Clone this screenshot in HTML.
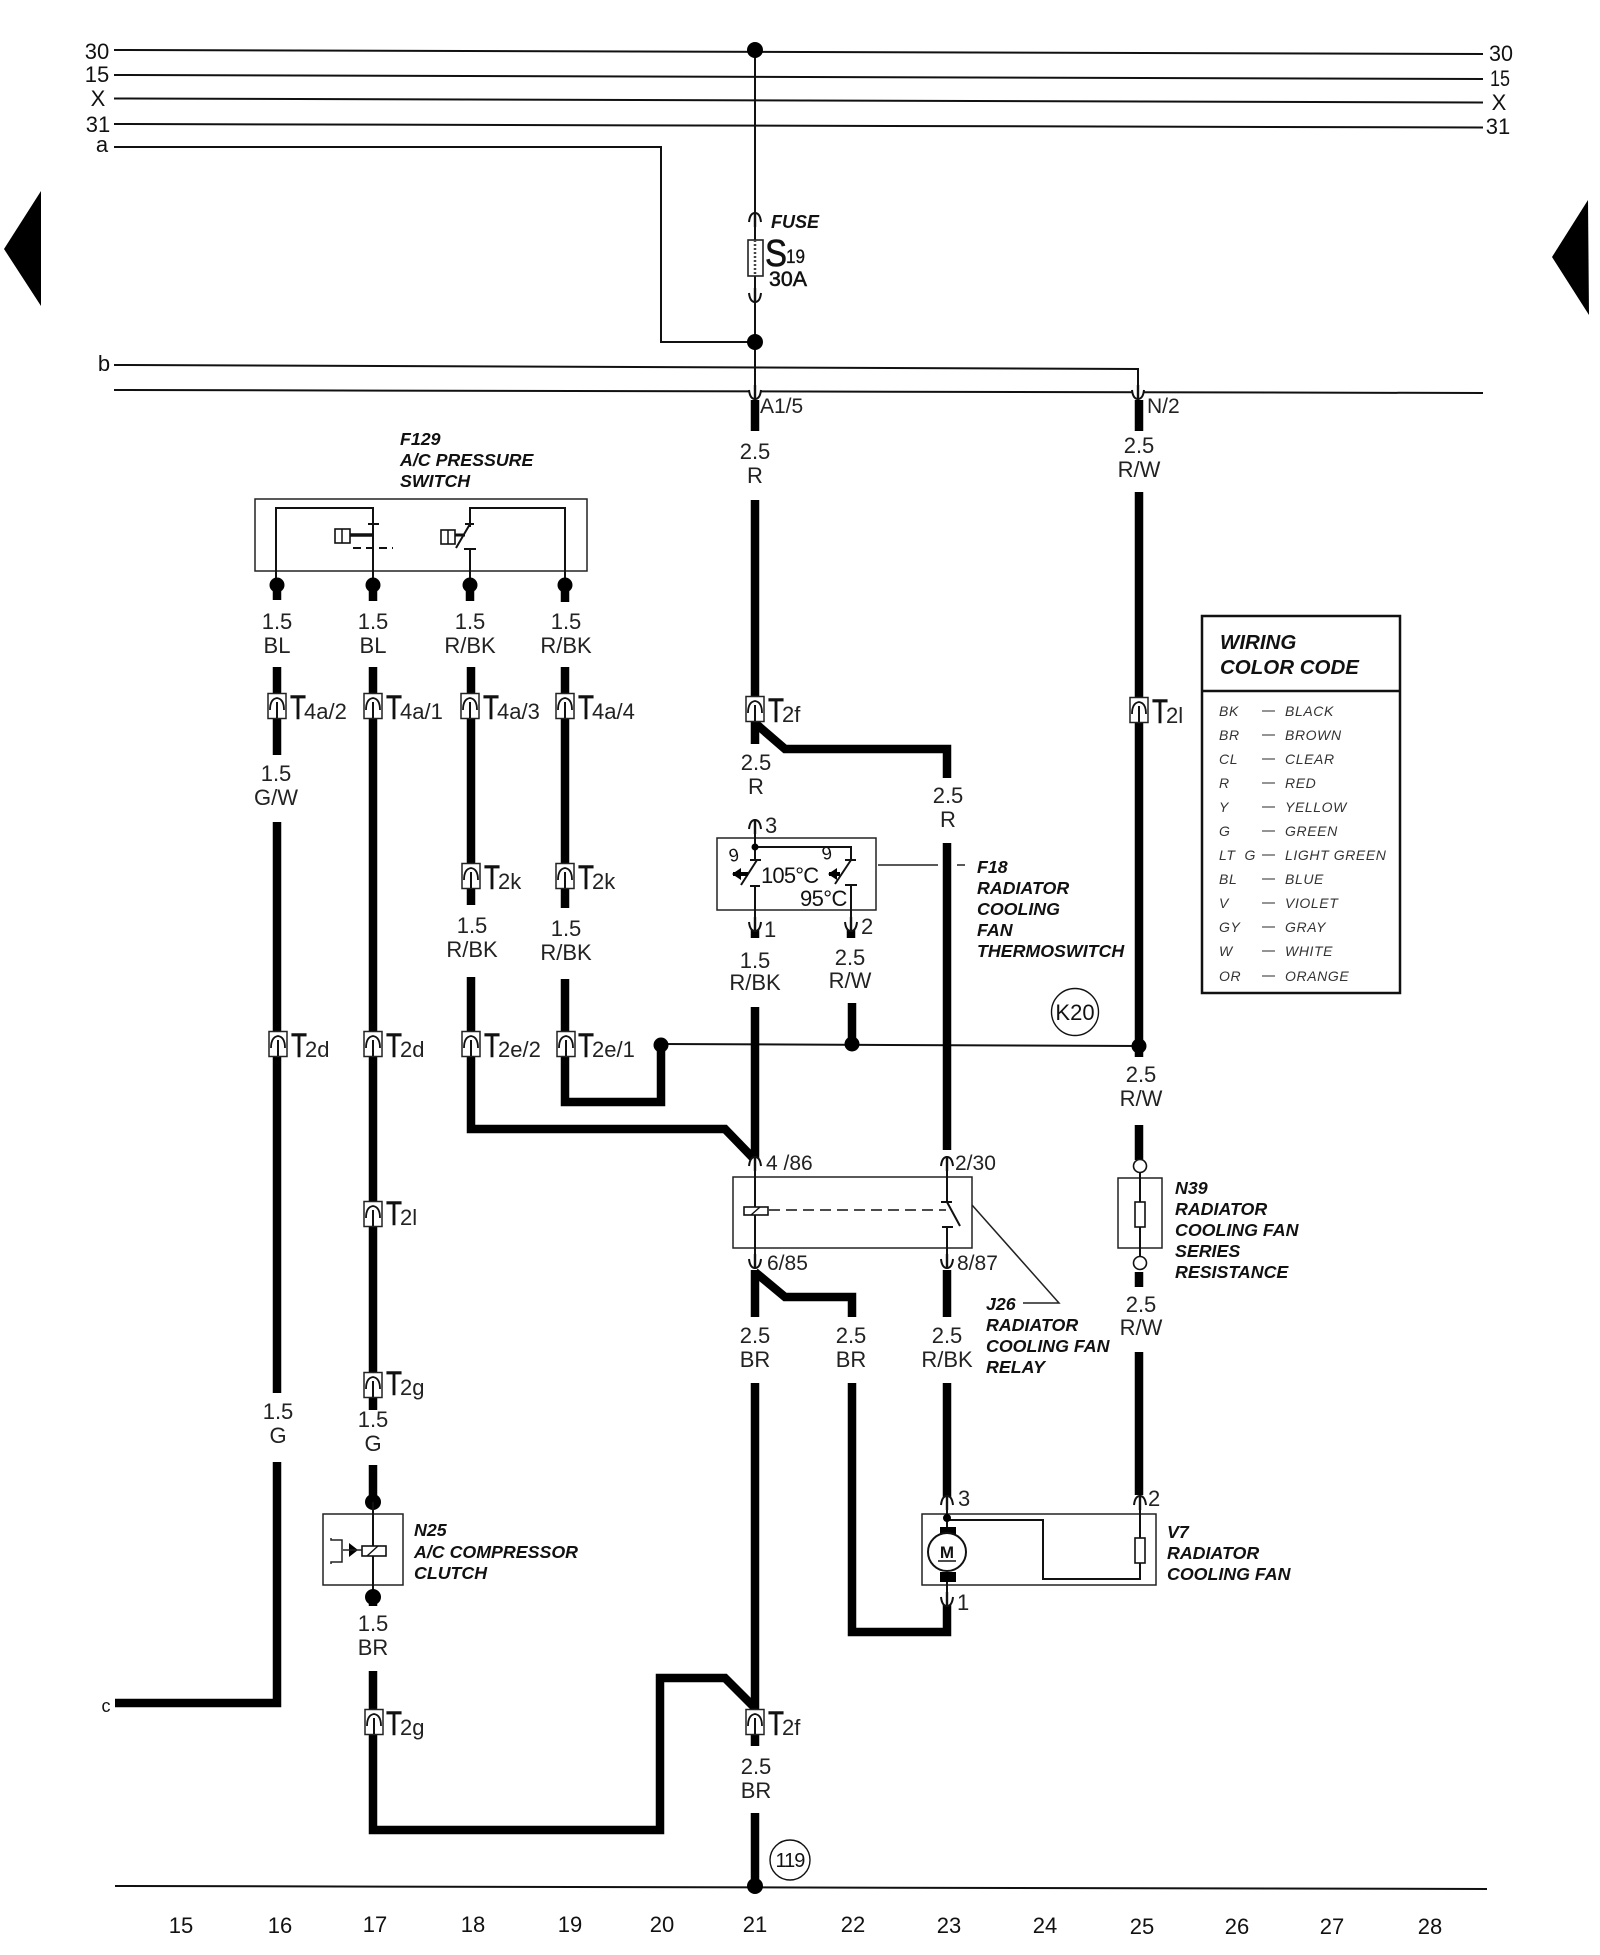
<!DOCTYPE html>
<html><head><meta charset="utf-8"><style>
html,body{margin:0;padding:0;background:#fff}
svg{display:block}
text{font-family:"Liberation Sans",sans-serif;fill:#111}
.l{font-size:22px;text-anchor:middle;fill:#222}
.n{font-size:22px;text-anchor:middle;font-weight:400}
.b{font-size:17.8px;font-weight:700;font-style:italic}
.p{font-size:21px;fill:#222}
.c{font-size:14px;font-style:italic;letter-spacing:.6px;fill:#333}
.tt{font-size:34px;fill:#111;stroke:#111;stroke-width:.5}
.ts{font-size:22px;fill:#222}
.w{fill:none;stroke:#000;stroke-width:8.5;stroke-linejoin:miter}
.t{fill:none;stroke:#111;stroke-width:2}
.h{fill:none;stroke:#222;stroke-width:1.5}
</style></head><body>
<svg xmlns="http://www.w3.org/2000/svg" width="1600" height="1955" viewBox="0 0 1600 1955">
<defs>
<g id="tc"><rect x="-9" y="-12.5" width="18" height="25" fill="#fff" stroke="#222" stroke-width="1.5"/><path d="M-7 4 Q-7 -7 0 -8 Q7 -7 7 4" fill="none" stroke="#111" stroke-width="1.8"/><path d="M0 -4V12" stroke="#111" stroke-width="2"/></g>
<g id="ua"><path d="M-6 4 Q-5 -5 0 -5 Q5 -5 6 4" fill="#fff" stroke="#111" stroke-width="2"/><path d="M0 -6V9" stroke="#111" stroke-width="2.4"/></g>
<g id="ud"><path d="M-6 -4 Q-5 5 0 5 Q5 5 6 -4" fill="#fff" stroke="#111" stroke-width="2"/><path d="M0 -9V6" stroke="#111" stroke-width="2.4"/></g>
</defs>
<rect width="1600" height="1955" fill="#fff"/>

<!-- triangles -->
<polygon points="41,191 4,249 41,306" fill="#000"/>
<polygon points="1552,257 1588,200 1589,315" fill="#000"/>

<!-- bus lines -->
<g class="t">
<path d="M114 50L1483 54"/>
<path d="M114 75L1483 79"/>
<path d="M114 98.5L1483 102.5"/>
<path d="M114 124L1483 127.5"/>
<path d="M114 147H661V342H755"/>
<path d="M114 365L1138 369V395"/>
<path d="M114 390L1483 393"/>
<path d="M115 1886L1487 1889"/>
<path d="M755 50V395"/>
<path d="M661 1044L1139 1046"/>
</g>
<circle cx="755" cy="50" r="8" fill="#000"/><circle cx="755" cy="342" r="8" fill="#000"/>

<text class="n" x="97" y="59">30</text><text class="n" x="97" y="82">15</text><text class="n" x="98" y="106">X</text><text class="n" x="98" y="132">31</text><text class="n" x="102" y="152">a</text><text class="n" x="104" y="371">b</text>
<text class="n" x="106" y="1712" style="font-size:18px">c</text>
<text class="n" x="1501" y="61" textLength="24" lengthAdjust="spacingAndGlyphs">30</text><text class="n" x="1500" y="86" textLength="20" lengthAdjust="spacingAndGlyphs">15</text><text class="n" x="1499" y="110">X</text><text class="n" x="1498" y="134">31</text>

<!-- fuse -->
<path class="t" d="M755 216V298"/>
<use href="#ua" x="755" y="218"/><use href="#ud" x="755" y="297"/>
<rect x="748" y="240" width="15" height="36" fill="#fff" stroke="#222" stroke-width="1.6"/><path d="M755 240V276" stroke="#444" stroke-width="2.5" stroke-dasharray="2 2"/>
<text x="771" y="228" style="font-size:18px;font-weight:700;font-style:italic">FUSE</text>
<text x="765" y="266" style="font-size:38px;stroke:#111;stroke-width:.6" textLength="22" lengthAdjust="spacingAndGlyphs">S</text><text x="786" y="263" style="font-size:19px;stroke:#111;stroke-width:.3" textLength="19" lengthAdjust="spacingAndGlyphs">19</text>
<text x="769" y="286" style="font-size:21px;stroke:#111;stroke-width:.5" textLength="38" lengthAdjust="spacingAndGlyphs">30A</text>

<!-- thick wires -->
<g class="w">
<path d="M277 667V755M277 822V1393M277 1462V1703H115"/>
<path d="M373 667V1410M373 1465V1502"/>
<path d="M373 1671V1830H660V1678H725L755 1708"/>
<path d="M471 667V905M471 977V1129H725L755 1160"/>
<path d="M565 667V908M565 979V1102H661V1045"/>
<path d="M755 400V431M755 500V744"/>
<path d="M755 723L785 749H947V778M947 843V1150"/>
<path d="M755 1007V1160"/>
<path d="M852 1003V1043"/>
<path d="M1139 400V431"/>
<path d="M1139 492V1057M1139 1125V1160"/>
<path d="M1139 1272V1287M1139 1352V1495"/>
<path d="M755 1270V1317M755 1272L785 1297H852V1317"/>
<path d="M755 1383V1746M755 1813V1886"/>
<path d="M852 1383V1632H947V1605"/>
<path d="M947 1270V1317M947 1383V1498"/>
<path d="M755 925V938M851 925V938"/>
<path d="M277 585V600M373 585V601M470 585V601M565 585V602"/>
<path d="M373 1597V1606"/>
</g>
<circle cx="373" cy="1502" r="8" fill="#000"/>
<circle cx="755" cy="1886" r="8" fill="#000"/>
<circle cx="661" cy="1045" r="7.5" fill="#000"/><circle cx="852" cy="1044" r="7.5" fill="#000"/><circle cx="1139" cy="1046" r="7.5" fill="#000"/>

<!-- top terminals -->
<use href="#ud" x="755" y="394"/><use href="#ud" x="1138" y="394"/>
<text class="p" x="760" y="413">A1/5</text><text class="p" x="1147" y="413">N/2</text>

<!-- wire labels -->
<g>
<text class="l" x="755" y="459">2.5</text><text class="l" x="755" y="483">R</text>
<text class="l" x="1139" y="453">2.5</text><text class="l" x="1139" y="477">R/W</text>
<text class="l" x="277" y="629">1.5</text><text class="l" x="277" y="653">BL</text>
<text class="l" x="373" y="629">1.5</text><text class="l" x="373" y="653">BL</text>
<text class="l" x="470" y="629">1.5</text><text class="l" x="470" y="653">R/BK</text>
<text class="l" x="566" y="629">1.5</text><text class="l" x="566" y="653">R/BK</text>
<text class="l" x="276" y="781">1.5</text><text class="l" x="276" y="805">G/W</text>
<text class="l" x="756" y="770">2.5</text><text class="l" x="756" y="794">R</text>
<text class="l" x="948" y="803">2.5</text><text class="l" x="948" y="827">R</text>
<text class="l" x="472" y="933">1.5</text><text class="l" x="472" y="957">R/BK</text>
<text class="l" x="566" y="936">1.5</text><text class="l" x="566" y="960">R/BK</text>
<text class="l" x="755" y="968">1.5</text><text class="l" x="755" y="990">R/BK</text>
<text class="l" x="850" y="965">2.5</text><text class="l" x="850" y="988">R/W</text>
<text class="l" x="1141" y="1082">2.5</text><text class="l" x="1141" y="1106">R/W</text>
<text class="l" x="755" y="1343">2.5</text><text class="l" x="755" y="1367">BR</text>
<text class="l" x="851" y="1343">2.5</text><text class="l" x="851" y="1367">BR</text>
<text class="l" x="947" y="1343">2.5</text><text class="l" x="947" y="1367">R/BK</text>
<text class="l" x="1141" y="1312">2.5</text><text class="l" x="1141" y="1335">R/W</text>
<text class="l" x="278" y="1419">1.5</text><text class="l" x="278" y="1443">G</text>
<text class="l" x="373" y="1427">1.5</text><text class="l" x="373" y="1451">G</text>
<text class="l" x="373" y="1631">1.5</text><text class="l" x="373" y="1655">BR</text>
<text class="l" x="756" y="1774">2.5</text><text class="l" x="756" y="1798">BR</text>
</g>

<!-- connectors -->
<use href="#tc" x="277" y="706"/><use href="#tc" x="373" y="706"/><use href="#tc" x="470" y="706"/><use href="#tc" x="565" y="706"/><use href="#tc" x="755" y="709"/><use href="#tc" x="1139" y="710"/>
<use href="#tc" x="471" y="876"/><use href="#tc" x="565" y="876"/>
<use href="#tc" x="278" y="1044"/><use href="#tc" x="373" y="1044"/><use href="#tc" x="471" y="1044"/><use href="#tc" x="566" y="1044"/>
<use href="#tc" x="373" y="1214"/><use href="#tc" x="373" y="1385"/><use href="#tc" x="374" y="1722"/><use href="#tc" x="755" y="1722"/>

<g>
<text class="tt" x="290" y="719" textLength="16" lengthAdjust="spacingAndGlyphs">T</text><text class="ts" x="304" y="719">4a/2</text>
<text class="tt" x="386" y="719" textLength="16" lengthAdjust="spacingAndGlyphs">T</text><text class="ts" x="400" y="719">4a/1</text>
<text class="tt" x="483" y="719" textLength="16" lengthAdjust="spacingAndGlyphs">T</text><text class="ts" x="497" y="719">4a/3</text>
<text class="tt" x="578" y="719" textLength="16" lengthAdjust="spacingAndGlyphs">T</text><text class="ts" x="592" y="719">4a/4</text>
<text class="tt" x="768" y="722" textLength="16" lengthAdjust="spacingAndGlyphs">T</text><text class="ts" x="782" y="722">2f</text>
<text class="tt" x="1152" y="723" textLength="16" lengthAdjust="spacingAndGlyphs">T</text><text class="ts" x="1166" y="723">2l</text>
<text class="tt" x="484" y="889" textLength="16" lengthAdjust="spacingAndGlyphs">T</text><text class="ts" x="498" y="889">2k</text>
<text class="tt" x="578" y="889" textLength="16" lengthAdjust="spacingAndGlyphs">T</text><text class="ts" x="592" y="889">2k</text>
<text class="tt" x="291" y="1057" textLength="16" lengthAdjust="spacingAndGlyphs">T</text><text class="ts" x="305" y="1057">2d</text>
<text class="tt" x="386" y="1057" textLength="16" lengthAdjust="spacingAndGlyphs">T</text><text class="ts" x="400" y="1057">2d</text>
<text class="tt" x="484" y="1057" textLength="16" lengthAdjust="spacingAndGlyphs">T</text><text class="ts" x="498" y="1057">2e/2</text>
<text class="tt" x="578" y="1057" textLength="16" lengthAdjust="spacingAndGlyphs">T</text><text class="ts" x="592" y="1057">2e/1</text>
<text class="tt" x="386" y="1225" textLength="16" lengthAdjust="spacingAndGlyphs">T</text><text class="ts" x="400" y="1225">2l</text>
<text class="tt" x="386" y="1395" textLength="16" lengthAdjust="spacingAndGlyphs">T</text><text class="ts" x="400" y="1395">2g</text>
<text class="tt" x="386" y="1735" textLength="16" lengthAdjust="spacingAndGlyphs">T</text><text class="ts" x="400" y="1735">2g</text>
<text class="tt" x="768" y="1735" textLength="16" lengthAdjust="spacingAndGlyphs">T</text><text class="ts" x="782" y="1735">2f</text>
</g>

<!-- F129 -->
<text class="b" x="400" y="445">F129</text><text class="b" x="400" y="466">A/C PRESSURE</text><text class="b" x="400" y="487">SWITCH</text>
<rect x="255" y="499" width="332" height="72" class="h" />
<g class="t">
<path d="M276 585V508H373V585"/>
<path d="M470 585V549M464 549H476" />
<path d="M470 527V508H565V585"/>
<path d="M368 524H379" />
<path d="M353 548H393" stroke-dasharray="8 5"/>
<path d="M470 524L456 548M465 524H474"/>
</g>
<path d="M350 535H373" stroke="#111" stroke-width="3.5"/>
<rect x="335" y="529" width="15" height="14" fill="#fff" stroke="#111" stroke-width="1.6"/><path d="M342 529V543" stroke="#111" stroke-width="1.5"/>
<rect x="441" y="530" width="14" height="14" fill="#fff" stroke="#111" stroke-width="1.6"/><path d="M448 530V544" stroke="#111" stroke-width="1.5"/>
<path d="M455 535H465" stroke="#111" stroke-width="3"/>
<circle cx="277" cy="585" r="7.5" fill="#000"/><circle cx="373" cy="585" r="7.5" fill="#000"/><circle cx="470" cy="585" r="7.5" fill="#000"/><circle cx="565" cy="585" r="7.5" fill="#000"/>

<!-- F18 -->
<rect x="717" y="838" width="159" height="72" class="h"/>
<g class="t">
<path d="M755 822V860M755 847H851V860"/>
<path d="M750 860H761M757 860L741 885"/>
<path d="M750 886H760M755 886V925"/>
<path d="M845 860H856M851 860L835 884"/>
<path d="M845 885H857M851 885V925"/>
</g>
<circle cx="755" cy="847" r="3.5" fill="#000"/>
<use href="#ua" x="755" y="825"/><use href="#ud" x="755" y="926"/><use href="#ud" x="851" y="926"/>
<path d="M733 874H748M829 874H840" stroke="#000" stroke-width="4"/>
<polygon points="732,874 741,868 741,880" fill="#000"/><polygon points="828,874 837,868 837,880" fill="#000"/>
<text x="730" y="862" style="font-size:18px" transform="rotate(-10 730 862)">9</text>
<text x="823" y="860" style="font-size:18px" transform="rotate(-10 823 860)">9</text>
<text x="761" y="883" style="font-size:22px;letter-spacing:-.8px">105°C</text>
<text x="800" y="906" style="font-size:22px;letter-spacing:-.6px">95°C</text>
<text class="p" x="765" y="833" style="font-size:22px">3</text><text class="p" x="764" y="937" style="font-size:22px">1</text><text class="p" x="861" y="934" style="font-size:22px">2</text>
<path d="M878 865H938M957 865H965" class="h"/>
<text class="b" x="977" y="873">F18</text><text class="b" x="977" y="894">RADIATOR</text><text class="b" x="977" y="915">COOLING</text><text class="b" x="977" y="936">FAN</text><text class="b" x="977" y="957">THERMOSWITCH</text>
<circle cx="1075" cy="1012" r="23.5" fill="#fff" stroke="#111" stroke-width="1.4"/>
<text class="n" x="1075" y="1020">K20</text>

<!-- J26 -->
<rect x="733" y="1177" width="239" height="71" class="h"/>
<g class="t">
<path d="M755 1160V1266"/>
<path d="M947 1160V1202M941 1202H952M947 1202L960 1226M942 1227H953M947 1227V1266"/>
</g>
<path d="M769 1210H946" stroke="#111" stroke-width="1.6" stroke-dasharray="11 6" fill="none"/>
<rect x="744" y="1207" width="24" height="8" fill="#fff" stroke="#111" stroke-width="1.6"/><path d="M751 1215L760 1207" stroke="#111" stroke-width="1.4"/>
<use href="#ua" x="755" y="1162"/><use href="#ua" x="947" y="1162"/><use href="#ud" x="755" y="1263"/><use href="#ud" x="947" y="1263"/>
<text class="p" x="766" y="1170">4 /86</text><text class="p" x="955" y="1170">2/30</text><text class="p" x="767" y="1270">6/85</text><text class="p" x="957" y="1270">8/87</text>
<path d="M972 1205L1059 1303H1023" class="h"/>
<text class="b" x="986" y="1310">J26</text><text class="b" x="986" y="1331">RADIATOR</text><text class="b" x="986" y="1352">COOLING FAN</text><text class="b" x="986" y="1373">RELAY</text>

<!-- N39 -->
<rect x="1118" y="1178" width="44" height="70" class="h"/>
<path class="t" d="M1140 1172V1258"/>
<circle cx="1140" cy="1166" r="6.5" fill="#fff" stroke="#111" stroke-width="1.6"/><circle cx="1140" cy="1263" r="6.5" fill="#fff" stroke="#111" stroke-width="1.6"/>
<rect x="1135" y="1202" width="10" height="25" fill="#fff" stroke="#111" stroke-width="1.6"/>
<text class="b" x="1175" y="1194">N39</text><text class="b" x="1175" y="1215">RADIATOR</text><text class="b" x="1175" y="1236">COOLING FAN</text><text class="b" x="1175" y="1257">SERIES</text><text class="b" x="1175" y="1278">RESISTANCE</text>

<!-- N25 -->
<rect x="323" y="1514" width="80" height="71" class="h"/>
<path class="t" d="M373 1502V1597"/>
<rect x="362" y="1546" width="24" height="10" fill="#fff" stroke="#111" stroke-width="1.6"/><path d="M367 1556L378 1546" stroke="#111" stroke-width="1.4"/>
<polygon points="349,1543 349,1557 358,1550" fill="#000"/>
<path class="h" d="M343 1550H362M331 1538V1540H342V1562H331V1564"/>
<circle cx="373" cy="1597" r="8" fill="#000"/>
<text class="b" x="414" y="1536">N25</text><text class="b" x="414" y="1558">A/C COMPRESSOR</text><text class="b" x="414" y="1579">CLUTCH</text>

<!-- V7 -->
<rect x="922" y="1514" width="234" height="71" class="h"/>
<g class="t">
<path d="M947 1500V1530M947 1575V1602"/>
<path d="M947 1520H1043V1579H1140V1563M1140 1538V1503"/>
</g>
<circle cx="947" cy="1518" r="4" fill="#000"/>
<rect x="940" y="1527" width="16" height="11" fill="#000"/><rect x="940" y="1572" width="16" height="10" fill="#000"/>
<circle cx="947" cy="1552" r="19" fill="#fff" stroke="#111" stroke-width="2"/>
<text x="947" y="1558" style="font-size:17px;font-weight:700;text-anchor:middle">M</text>
<path d="M938 1561H956" stroke="#111" stroke-width="1.6"/>
<rect x="1135" y="1538" width="10" height="25" fill="#fff" stroke="#111" stroke-width="1.6"/>
<use href="#ua" x="947" y="1501"/><use href="#ua" x="1140" y="1501"/><use href="#ud" x="947" y="1601"/>
<text class="p" x="958" y="1506" style="font-size:22px">3</text><text class="p" x="1148" y="1506" style="font-size:22px">2</text><text class="p" x="957" y="1610" style="font-size:22px">1</text>
<text class="b" x="1167" y="1538">V7</text><text class="b" x="1167" y="1559">RADIATOR</text><text class="b" x="1167" y="1580">COOLING FAN</text>

<!-- 119 -->
<circle cx="790" cy="1860" r="20" fill="#fff" stroke="#111" stroke-width="1.4"/>
<text x="790" y="1867" style="font-size:20px;text-anchor:middle;letter-spacing:-1px">119</text>

<!-- bottom numbers -->
<g>
<text class="n" x="181" y="1933">15</text><text class="n" x="280" y="1933">16</text><text class="n" x="375" y="1932">17</text><text class="n" x="473" y="1932">18</text><text class="n" x="570" y="1932">19</text><text class="n" x="662" y="1932">20</text><text class="n" x="755" y="1932">21</text><text class="n" x="853" y="1932">22</text><text class="n" x="949" y="1933">23</text><text class="n" x="1045" y="1933">24</text><text class="n" x="1142" y="1934">25</text><text class="n" x="1237" y="1934">26</text><text class="n" x="1332" y="1934">27</text><text class="n" x="1430" y="1934">28</text>
</g>

<!-- legend -->
<rect x="1202" y="616" width="198" height="377" fill="#fff" stroke="#111" stroke-width="2.5"/>
<path d="M1202 691H1400" stroke="#111" stroke-width="2.5"/>
<text x="1220" y="649" style="font-size:20.5px;font-weight:700;font-style:italic">WIRING</text>
<text x="1220" y="674" style="font-size:20.5px;font-weight:700;font-style:italic">COLOR CODE</text>
<g>
<text class="c" x="1219" y="716">BK</text><text class="c" x="1285" y="716">BLACK</text>
<text class="c" x="1219" y="740">BR</text><text class="c" x="1285" y="740">BROWN</text>
<text class="c" x="1219" y="764">CL</text><text class="c" x="1285" y="764">CLEAR</text>
<text class="c" x="1219" y="788">R</text><text class="c" x="1285" y="788">RED</text>
<text class="c" x="1219" y="812">Y</text><text class="c" x="1285" y="812">YELLOW</text>
<text class="c" x="1219" y="836">G</text><text class="c" x="1285" y="836">GREEN</text>
<text class="c" x="1219" y="860">LT&#160; G</text><text class="c" x="1285" y="860">LIGHT GREEN</text>
<text class="c" x="1219" y="884">BL</text><text class="c" x="1285" y="884">BLUE</text>
<text class="c" x="1219" y="908">V</text><text class="c" x="1285" y="908">VIOLET</text>
<text class="c" x="1219" y="932">GY</text><text class="c" x="1285" y="932">GRAY</text>
<text class="c" x="1219" y="956">W</text><text class="c" x="1285" y="956">WHITE</text>
<text class="c" x="1219" y="981">OR</text><text class="c" x="1285" y="981">ORANGE</text>
</g>
<path stroke="#555" stroke-width="1.2" d="M1262 711H1275M1262 735H1275M1262 759H1275M1262 783H1275M1262 807H1275M1262 831H1275M1262 855H1275M1262 879H1275M1262 903H1275M1262 927H1275M1262 951H1275M1262 976H1275"/>
</svg>
</body></html>
